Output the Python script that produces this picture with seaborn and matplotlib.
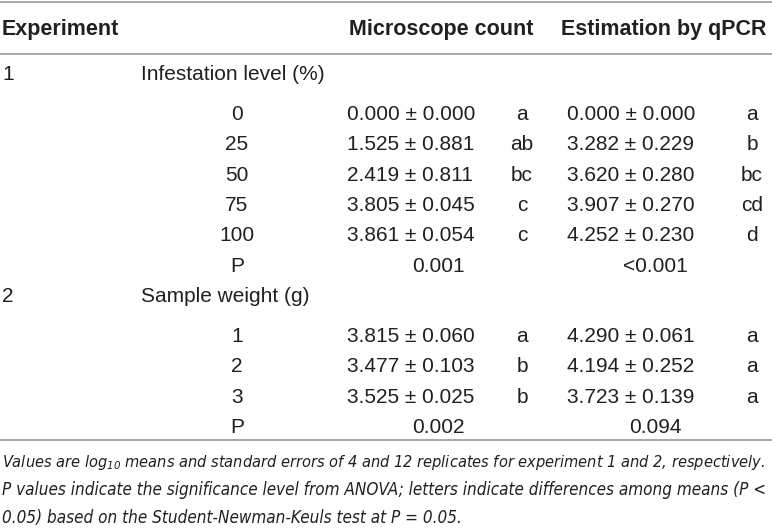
import matplotlib
matplotlib.use("Agg")
import matplotlib.pyplot as plt
from matplotlib import font_manager
import seaborn as sns

# table content
headers = ["Experiment", "Microscope count", "Estimation by qPCR"]

exp1_label = "Infestation level (%)"
exp1_levels = ["0", "25", "50", "75", "100"]
exp1_micro_mean = [0.000, 1.525, 2.419, 3.805, 3.861]
exp1_micro_se = [0.000, 0.881, 0.811, 0.045, 0.054]
exp1_micro_letters = ["a", "ab", "bc", "c", "c"]
exp1_qpcr_mean = [0.000, 3.282, 3.620, 3.907, 4.252]
exp1_qpcr_se = [0.000, 0.229, 0.280, 0.270, 0.230]
exp1_qpcr_letters = ["a", "b", "bc", "cd", "d"]
exp1_p = ["0.001", "<0.001"]

exp2_label = "Sample weight (g)"
exp2_levels = ["1", "2", "3"]
exp2_micro_mean = [3.815, 3.477, 3.525]
exp2_micro_se = [0.060, 0.103, 0.025]
exp2_micro_letters = ["a", "b", "b"]
exp2_qpcr_mean = [4.290, 4.194, 3.723]
exp2_qpcr_se = [0.061, 0.252, 0.139]
exp2_qpcr_letters = ["a", "a", "a"]
exp2_p = ["0.002", "0.094"]

footnote = [
    r"Values are log$_{10}$ means and standard errors of 4 and 12 replicates for experiment 1 and 2, respectively.",
    "P values indicate the significance level from ANOVA; letters indicate differences among means (P <",
    "0.05) based on the Student-Newman-Keuls test at P = 0.05.",
]

sns.set_theme(style="white")
plt.rcParams["font.family"] = ["Liberation Sans", "DejaVu Sans"]
plt.rcParams["mathtext.default"] = "regular"

# a condensed face for the footnote if one is installed
names = {f.name for f in font_manager.fontManager.ttflist}
if "Liberation Sans Narrow" in names:
    note_font = dict(family="Liberation Sans Narrow")
elif any(f.name == "DejaVu Sans" and f.stretch == "condensed" for f in font_manager.fontManager.ttflist):
    note_font = dict(family="DejaVu Sans", fontstretch="condensed")
else:
    note_font = dict(family="Liberation Sans")

ink = "#231f20"
rule = "#9a9a9a"
fs = 15

fig = plt.figure(figsize=(7.72, 5.31), dpi=100)
ax = fig.add_axes([0, 0, 1, 1])
ax.set_xlim(0, 772)
ax.set_ylim(531, 0)
ax.axis("off")

# rules
ax.hlines([1.5, 54, 440], 0, 772, color=rule, lw=1.2)

# header
hkw = dict(fontsize=15.5, fontweight="bold", color=ink, va="center")
ax.text(2, 29, headers[0], **hkw)
ax.text(441, 29, headers[1], ha="center", **hkw)
ax.text(664, 29, headers[2], ha="center", **hkw)

x_level, x_micro, x_mlet, x_qpcr, x_qlet = 237, 347, 522, 567, 752
x_pm, x_pq = 438, 655
kw = dict(fontsize=fs, color=ink, va="center")


def block(y0, num, label, levels, mm, ms, ml, qm, qs, ql, pvals):
    ax.text(2, y0, num, **kw)
    ax.text(141, y0, label, **kw)
    y = y0 + 39.5
    for lev, a, b, la, c, d, lc in zip(levels, mm, ms, ml, qm, qs, ql):
        ax.text(x_level, y, lev, ha="center", **kw)
        ax.text(x_micro, y, f"{a:.3f} ± {b:.3f}", **kw)
        ax.text(x_mlet, y, la, ha="center", **kw)
        ax.text(x_qpcr, y, f"{c:.3f} ± {d:.3f}", **kw)
        ax.text(x_qlet, y, lc, ha="center", **kw)
        y += 30.3
    ax.text(x_level, y, "P", ha="center", **kw)
    ax.text(x_pm, y, pvals[0], ha="center", **kw)
    ax.text(x_pq, y, pvals[1], ha="center", **kw)


block(75, "1", exp1_label, exp1_levels, exp1_micro_mean, exp1_micro_se, exp1_micro_letters,
      exp1_qpcr_mean, exp1_qpcr_se, exp1_qpcr_letters, exp1_p)
block(297, "2", exp2_label, exp2_levels, exp2_micro_mean, exp2_micro_se, exp2_micro_letters,
      exp2_qpcr_mean, exp2_qpcr_se, exp2_qpcr_letters, exp2_p)

# footnote, first two lines fitted to the full width like the justified original
notes = [ax.text(2, 462 + 28 * i, line, fontsize=14, style="italic", color=ink,
                 va="center", **note_font) for i, line in enumerate(footnote)]
renderer = fig.canvas.get_renderer()
sizes = []
for t in notes[:2]:
    w = t.get_window_extent(renderer).width
    sizes.append(14 * 766 / w)
for t, s in zip(notes, sizes + [sizes[1]]):
    t.set_fontsize(s)

fig.savefig("out.png", dpi=100)
